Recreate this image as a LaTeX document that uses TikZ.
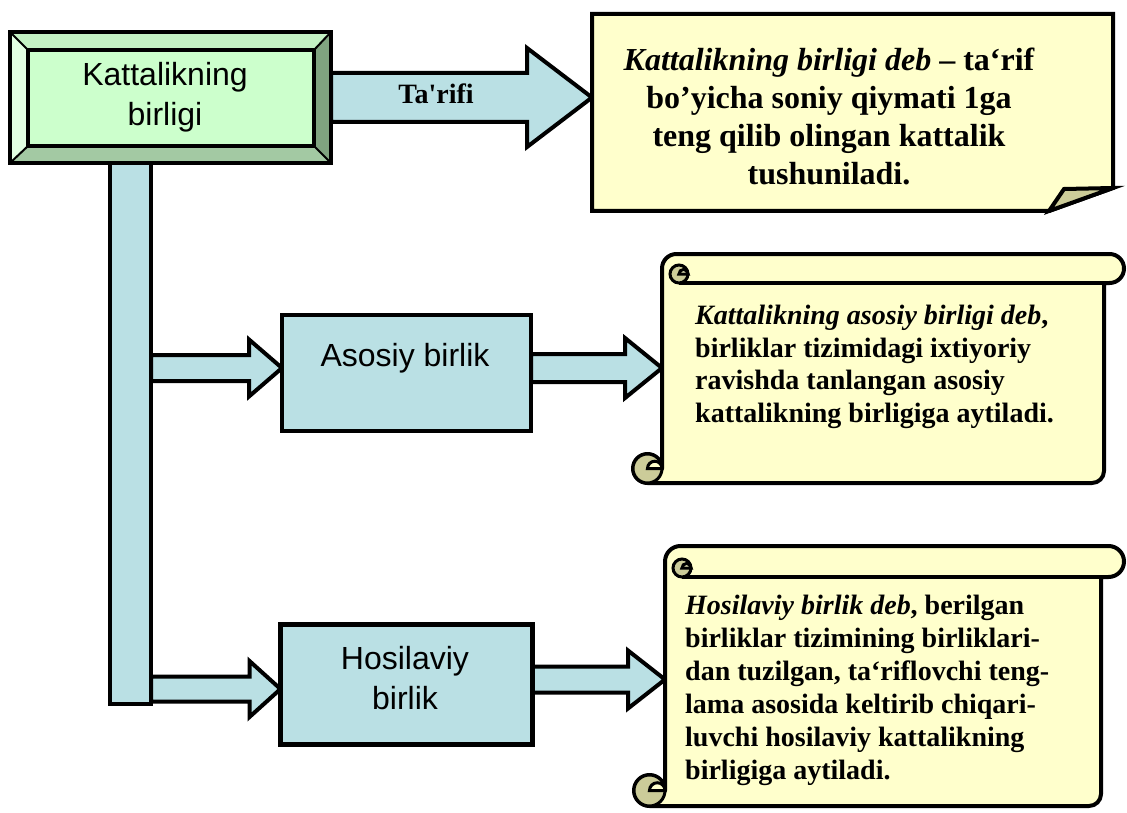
\documentclass[tikz,border=0pt]{standalone}
\usepackage{fontspec}
\setmainfont{Liberation Serif}[Ligatures=TeXOff]
\newfontfamily\labelfont{Liberation Sans}
\usetikzlibrary{calc,backgrounds}

\definecolor{boxblue}{HTML}{BAE0E4}
\definecolor{paper}{HTML}{FFFFCC}
\definecolor{curl}{HTML}{CCCC99}
\definecolor{bevelface}{HTML}{CCFFCC}
\definecolor{beveltop}{HTML}{C4F2C4}
\definecolor{bevelleft}{HTML}{E2FFE2}
\definecolor{bevelbottom}{HTML}{A3C9A3}
\definecolor{bevelright}{HTML}{80A480}

\tikzset{
  outline/.style={draw=black, line width=4pt, line join=miter},
  bluebox/.style={outline, fill=boxblue, inner sep=0pt, outer sep=0pt},
  holder/.style={inner sep=0pt, outer sep=0pt},
  blockfill/.style={outline, fill=boxblue},
  scrollline/.style={draw=black, line width=4pt, line join=round},
  curlline/.style={draw=black, line width=3pt},
  boxlabel/.style={font=\labelfont\fontsize{32}{40}\selectfont, align=center, inner sep=0pt},
  arrowlabel/.style={font=\fontsize{28}{30}\selectfont\bfseries, inner sep=0pt},
  notetext/.style={font=\fontsize{32}{38}\selectfont\bfseries, align=center, inner sep=0pt},
  scrolltext/.style={font=\fontsize{28}{32.5}\selectfont\bfseries, align=left, inner sep=0pt, anchor=west},
}

% horizontal block arrow: start, tip, shaft half width, head half width, head length
\newcommand\blockarrow[5]{%
  \path[blockfill] let \p1=(#1), \p2=(#2) in
    (\x1,\y2+#3) -- (\x2-#5,\y2+#3) -- (\x2-#5,\y2+#4) -- (\x2,\y2)
    -- (\x2-#5,\y2-#4) -- (\x2-#5,\y2-#3) -- (\x1,\y2-#3) -- cycle;}

% horizontal scroll: left, top, roll height, right, bottom, roll end
\newcommand\scrollshape[6]{%
  \pgfmathsetmacro\rr{#3/2}%
  \filldraw[scrollline, fill=paper] (#1,#2+\rr) arc[start angle=180,end angle=270,radius=\rr]
    -- (#6-\rr,#2) arc[start angle=270,end angle=450,radius=\rr]
    -- (#4,#2+#3) -- (#4,#5-12) arc[start angle=0,end angle=90,radius=12]
    -- (#1-\rr,#5) arc[start angle=90,end angle=360,radius=\rr] -- cycle;
  \draw[scrollline] (#4,#2+#3) -- (#1+17,#2+#3);
  \filldraw[curlline, fill=curl] (#1+17,#2+#3-9) circle[radius=9];
  \filldraw[curlline, fill=paper] (#1+26,#2+#3-9) arc[start angle=0,end angle=-180,radius=4.5] -- cycle;
  \filldraw[curlline, fill=curl] (#1-\rr,#5-\rr) circle[radius=\rr];
  \filldraw[curlline, fill=paper] (#1,#5-\rr) arc[start angle=0,end angle=-180,radius=\rr/2] -- cycle;
}

\begin{document}
\begin{tikzpicture}[x=1pt,y=-1pt]
\useasboundingbox (0,0) rectangle (1127,813);

% trunk
\node[bluebox, minimum width=41pt, minimum height=544pt] (bar) at (130.5,432) {};

% bevelled title box
\node[holder, minimum width=321pt, minimum height=131pt] (kb) at (170.5,97.5) {};
\coordinate (onw) at (kb.north west);
\coordinate (one) at (kb.north east);
\coordinate (osw) at (kb.south west);
\coordinate (ose) at (kb.south east);
\coordinate (inw) at ([shift={(18pt,-18pt)}]kb.north west);
\coordinate (ine) at ([shift={(-17pt,-18pt)}]kb.north east);
\coordinate (isw) at ([shift={(18pt,17pt)}]kb.south west);
\coordinate (ise) at ([shift={(-17pt,17pt)}]kb.south east);
\fill[beveltop] (onw) -- (one) -- (ine) -- (inw) -- cycle;
\fill[bevelleft] (onw) -- (inw) -- (isw) -- (osw) -- cycle;
\fill[bevelbottom] (osw) -- (isw) -- (ise) -- (ose) -- cycle;
\fill[bevelright] (one) -- (ose) -- (ise) -- (ine) -- cycle;
\fill[bevelface] (inw) rectangle (ise);
\draw[line width=2pt] (onw) -- (inw) (one) -- (ine) (osw) -- (isw) (ose) -- (ise);
\draw[outline] (inw) rectangle (ise);
\draw[outline] (onw) rectangle (ose);
\node[boxlabel] (kbt) at (165,97) {Kattalikning\\birligi};

% unit boxes
\node[bluebox, minimum width=249pt, minimum height=116pt] (asosiy) at (406.5,373) {};
\node[boxlabel] (asosiyt) at (405,358) {Asosiy birlik};
\node[bluebox, line width=5pt, minimum width=252pt, minimum height=120pt] (hos) at (406.5,684.5) {};
\node[boxlabel] (host) at (405,678) {Hosilaviy\\birlik};

% definition note with folded corner
\node[holder, minimum width=521pt, minimum height=197pt] (note) at (852.5,112.5) {};
\filldraw[outline, fill=paper] (note.north west) -- (note.north east)
  -- ([yshift=23pt]note.south east) -- ([xshift=-64pt]note.south east)
  -- (note.south west) -- cycle;
\filldraw[outline, fill=curl] ([xshift=-64pt]note.south east)
  -- ([xshift=-49pt,yshift=22pt]note.south east)
  -- ([yshift=23pt]note.south east) -- cycle;
\node[notetext] (nt) at (829,116)
  {\textit{Kattalikning birligi deb} – ta‘rif\\bo’yicha soniy qiymati 1ga\\teng qilib olingan kattalik\\tushuniladi.};

% scrolls
\node[holder, minimum width=442pt, minimum height=229pt] (s1) at (883,368.5) {};
\scrollshape{662}{254}{29}{1104}{483}{1124}
\node[scrolltext] (s1t) at (695,367)
  {\textit{Kattalikning asosiy birligi deb},\\birliklar tizimidagi ixtiyoriy\\ravishda tanlangan asosiy\\kattalikning birligiga aytiladi.};

\node[holder, minimum width=436pt, minimum height=260pt] (s2) at (883,676) {};
\scrollshape{665}{546}{31}{1101}{806}{1124}
\node[scrolltext, font=\fontsize{28}{33}\selectfont\bfseries] (s2t) at (685,690.5)
  {\textit{Hosilaviy birlik deb}, berilgan\\birliklar tizimining birliklari-\\dan tuzilgan, ta‘riflovchi teng-\\lama asosida keltirib chiqari-\\luvchi hosilaviy kattalikning\\birligiga aytiladi.};

% block arrows behind everything
\coordinate (ain) at ([yshift=5pt]asosiy.west);
\coordinate (aout) at ([yshift=5pt]asosiy.east);
\coordinate (hin) at ([yshift=-4.5pt]hos.west);
\coordinate (hout) at ([yshift=5pt]hos.east);
\begin{pgfonlayer}{background}
  \blockarrow{kb.east}{note.west |- kb.east}{24.5pt}{49.5pt}{65pt}
  \blockarrow{bar.east |- ain}{ain}{13pt}{28.5pt}{33pt}
  \blockarrow{aout}{s1.west |- aout}{14pt}{30pt}{37pt}
  \blockarrow{bar.east |- hin}{hin}{12.5pt}{28pt}{31pt}
  \blockarrow{hout}{s2.west |- hout}{13pt}{29pt}{37pt}
\end{pgfonlayer}
\node[arrowlabel] (tarifi) at (436,94) {Ta'rifi};
\end{tikzpicture}
\end{document}
